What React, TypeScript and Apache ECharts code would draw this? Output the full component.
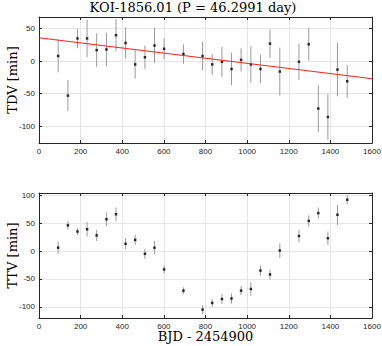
import React, { useEffect, useRef } from "react";
import * as echarts from "echarts";

const epochs = [92, 139, 185, 231, 277, 324, 370, 416, 462, 509, 555, 601, 694, 786, 832, 879, 925, 971, 1018, 1064, 1110, 1157, 1249, 1296, 1342, 1388, 1434, 1481];
const tdvValues = [8, -53, 35, 35, 17, 18, 40, 28, -5, 6, 24, 19, 11, 8, -5, -1, -12, 2, -5, -12, 27, -16, -1, 26, -73, -86, -13, -31];
const tdvErrors = [25, 24, 15, 29, 26, 26, 25, 24, 22, 18, 27, 16, 15, 22, 16, 23, 25, 18, 28, 22, 22, 37, 28, 25, 36, 35, 41, 25];
const ttvValues = [6, 46, 35, 39, 28, 57, 66, 13, 20, -5, 6, -33, -71, -105, -93, -86, -85, -71, -68, -35, -42, 1, 27, 54, 68, 23, 65, 92];
const ttvErrors = [11, 8, 6, 13, 10, 12, 12, 10, 9, 9, 12, 7, 6, 8, 7, 9, 9, 8, 12, 9, 9, 13, 11, 10, 10, 12, 18, 8];
const trendX = [0, 1600];
const trendY = [36, -27];
const xTicks = [0, 200, 400, 600, 800, 1000, 1200, 1400, 1600];
const tdvTicks = [-100, -50, 0, 50];
const ttvTicks = [-100, -50, 0, 50, 100];

const AXIS_COLOR = "#262626";
const GRID_COLOR = "#e6e6e6";
const SERIF = "'DejaVu Serif', 'Liberation Serif', serif";
const SANS = "'Liberation Sans', Arial, sans-serif";

function xAxisDef(gridIndex: number, position: "bottom" | "top", showLabel: boolean, name?: string) {
  return {
    type: "value",
    gridIndex,
    position,
    min: 0,
    max: 1600,
    interval: 200,
    name: name || "",
    nameLocation: "middle",
    nameGap: 12,
    nameMoveOverlap: false,
    nameTextStyle: { fontFamily: SERIF, fontSize: 13, color: "#000", verticalAlign: "top" },
    axisLine: { show: true, onZero: false, lineStyle: { color: AXIS_COLOR, width: 1 } },
    axisTick: { show: true, inside: true, length: 3, customValues: xTicks, lineStyle: { color: AXIS_COLOR } },
    axisLabel: {
      show: showLabel,
      customValues: xTicks,
      formatter: (v: number) => String(v),
      fontFamily: SANS,
      fontSize: 8,
      color: AXIS_COLOR,
      margin: 4,
    },
    splitLine: { show: showLabel, lineStyle: { color: GRID_COLOR, width: 1 } },
  };
}

function yAxisDef(gridIndex: number, position: "left" | "right", showLabel: boolean, min: number, max: number, ticks: number[], name?: string) {
  return {
    type: "value",
    gridIndex,
    position,
    min,
    max,
    name: name || "",
    nameLocation: "middle",
    nameGap: 20,
    nameMoveOverlap: false,
    nameTextStyle: { fontFamily: SERIF, fontSize: 13, color: "#000" },
    axisLine: { show: true, onZero: false, lineStyle: { color: AXIS_COLOR, width: 1 } },
    axisTick: { show: true, inside: true, length: 3, customValues: ticks, lineStyle: { color: AXIS_COLOR } },
    axisLabel: {
      show: showLabel,
      customValues: ticks,
      formatter: (v: number) => String(v),
      fontFamily: SANS,
      fontSize: 8,
      color: AXIS_COLOR,
      margin: 4,
    },
    splitLine: { show: showLabel, lineStyle: { color: GRID_COLOR, width: 1 } },
  };
}

function errorSeries(xAxisIndex: number, yAxisIndex: number, values: number[], errors: number[]) {
  return {
    type: "custom",
    xAxisIndex,
    yAxisIndex,
    data: epochs.map((x, i) => [x, values[i], errors[i]]),
    encode: { x: 0, y: 1 },
    clip: true,
    z: 2,
    renderItem: (params: any, api: any) => {
      const x = api.value(0);
      const y = api.value(1);
      const e = api.value(2);
      const p1 = api.coord([x, y - e]);
      const p2 = api.coord([x, y + e]);
      return {
        type: "line",
        shape: { x1: p1[0], y1: p1[1], x2: p2[0], y2: p2[1] },
        style: { stroke: "#9a9a9a", lineWidth: 1 },
      };
    },
  };
}

export default function App() {
  const ref = useRef<HTMLDivElement>(null);
  useEffect(() => {
    if (!ref.current) return;
    const chart = echarts.init(ref.current, null, { renderer: "svg" });
    chart.setOption({
      animation: false,
      backgroundColor: "#ffffff",
      title: {
        text: "KOI-1856.01 (P = 46.2991 day)",
        left: 192,
        textAlign: "center",
        top: 0,
        padding: 1,
        textStyle: { fontFamily: SERIF, fontSize: 13, fontWeight: "normal", color: "#000" },
      },
      grid: [
        { left: 39, top: 17, width: 333, height: 126, show: false, outerBoundsMode: "none", containLabel: false },
        { left: 39, top: 193, width: 333, height: 125, show: false, outerBoundsMode: "none", containLabel: false },
      ],
      xAxis: [
        xAxisDef(0, "bottom", true),
        xAxisDef(0, "top", false),
        xAxisDef(1, "bottom", true, "BJD - 2454900"),
        xAxisDef(1, "top", false),
      ],
      yAxis: [
        yAxisDef(0, "left", true, -126, 68, tdvTicks, "TDV [min]"),
        yAxisDef(0, "right", false, -126, 68, tdvTicks),
        yAxisDef(1, "left", true, -120, 104, ttvTicks, "TTV [min]"),
        yAxisDef(1, "right", false, -120, 104, ttvTicks),
      ],
      series: [
        errorSeries(0, 0, tdvValues, tdvErrors),
        {
          type: "scatter",
          xAxisIndex: 0,
          yAxisIndex: 0,
          symbol: "rect",
          symbolSize: 2.5,
          itemStyle: { color: "#000" },
          data: epochs.map((x, i) => [x, tdvValues[i]]),
          z: 3,
        },
        {
          type: "line",
          xAxisIndex: 0,
          yAxisIndex: 0,
          showSymbol: false,
          symbol: "none",
          lineStyle: { color: "#ff2020", width: 1 },
          data: trendX.map((x, i) => [x, trendY[i]]),
          z: 4,
        },
        errorSeries(2, 2, ttvValues, ttvErrors),
        {
          type: "scatter",
          xAxisIndex: 2,
          yAxisIndex: 2,
          symbol: "rect",
          symbolSize: 2.5,
          itemStyle: { color: "#000" },
          data: epochs.map((x, i) => [x, ttvValues[i]]),
          z: 3,
        },
      ],
    });
    return () => chart.dispose();
  }, []);
  return <div ref={ref} style={{ position: "fixed", left: 0, top: 0, width: 382, height: 346 }} />;
}
